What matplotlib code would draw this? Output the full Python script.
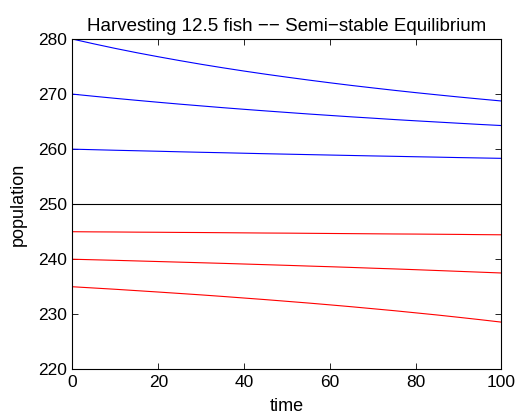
import numpy as np
import matplotlib
matplotlib.use('Agg')
import matplotlib.pyplot as plt

plt.rcParams['font.family'] = ['Liberation Sans', 'DejaVu Sans']

# time samples and population curves (harvest H = 12.5)
t = [0, 5, 10, 15, 20, 25, 30, 35, 40, 45, 50, 55, 60, 65, 70, 75, 80, 85, 90, 95, 100]
p280 = [280, 279.13, 278.30, 277.52, 276.79, 276.09, 275.42, 274.79, 274.19, 273.62, 273.08,
        272.56, 272.06, 271.58, 271.13, 270.69, 270.27, 269.87, 269.48, 269.11, 268.75]
p270 = [270, 269.61, 269.23, 268.87, 268.52, 268.18, 267.86, 267.54, 267.24, 266.95, 266.67,
        266.39, 266.13, 265.87, 265.63, 265.38, 265.15, 264.93, 264.71, 264.49, 264.29]
p260 = [260, 259.90, 259.80, 259.71, 259.62, 259.52, 259.43, 259.35, 259.26, 259.17, 259.09,
        259.01, 258.93, 258.85, 258.77, 258.70, 258.62, 258.55, 258.47, 258.40, 258.33]
p250 = [250] * 21
p245 = [245, 244.97, 244.95, 244.92, 244.90, 244.87, 244.85, 244.82, 244.79, 244.76, 244.74,
        244.71, 244.68, 244.65, 244.62, 244.59, 244.57, 244.54, 244.51, 244.47, 244.44]
p240 = [240, 239.90, 239.80, 239.69, 239.58, 239.47, 239.36, 239.25, 239.13, 239.01, 238.89,
        238.76, 238.64, 238.51, 238.37, 238.24, 238.10, 237.95, 237.80, 237.65, 237.50]
p235 = [235, 234.77, 234.54, 234.29, 234.04, 233.78, 233.52, 233.24, 232.95, 232.66, 232.35,
        232.04, 231.71, 231.37, 231.01, 230.65, 230.26, 229.87, 229.45, 229.02, 228.57]

above = [p280, p270, p260]
below = [p245, p240, p235]

fig = plt.figure(figsize=(5.2, 4.18), dpi=100)
ax = fig.add_axes([0.1394, 0.1165, 0.825, 0.790])

for p in above:
    ax.plot(t, p, color=(0, 0, 1), lw=0.8)
ax.plot(t, p250, color='k', lw=0.8)
for p in below:
    ax.plot(t, p, color=(1, 0, 0), lw=0.8)

ax.set_xlim(0, 100)
ax.set_ylim(220, 280)
ax.set_xticks([0, 20, 40, 60, 80, 100])
ax.set_yticks([220, 230, 240, 250, 260, 270, 280])
ax.tick_params(direction='in', top=True, right=True, length=4, width=0.6, labelsize=12.5, pad=4)
for s in ax.spines.values():
    s.set_linewidth(0.8)

ax.set_title('Harvesting 12.5 fish \u2212\u2212 Semi\u2212stable Equilibrium', fontsize=13.5, pad=6)
ax.set_xlabel('time', fontsize=13, labelpad=6)
ax.set_ylabel('population', fontsize=13, labelpad=8)

fig.savefig('out.png', dpi=100)
